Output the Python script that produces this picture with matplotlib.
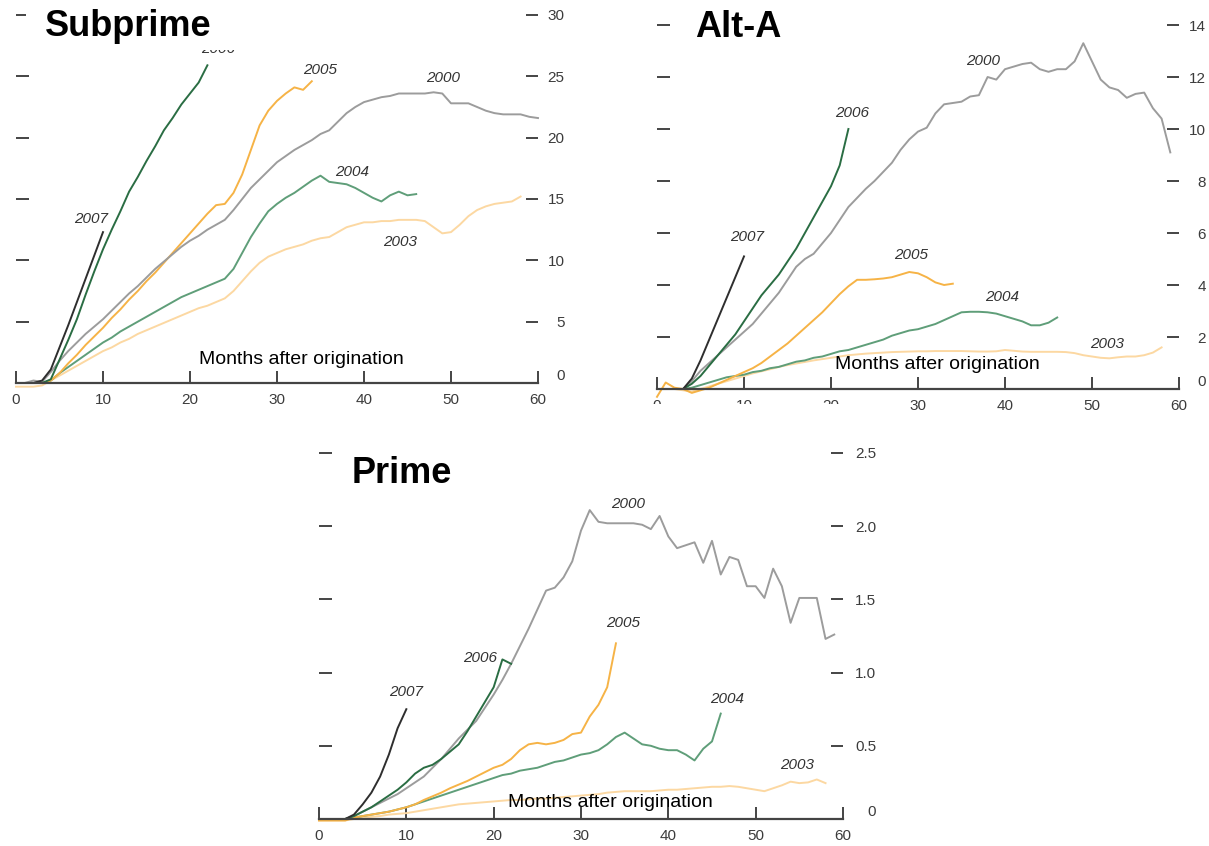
import numpy as np
import matplotlib
matplotlib.use('Agg')
import matplotlib.pyplot as plt
from matplotlib.patches import Rectangle

plt.rcParams['font.family'] = ['Liberation Sans', 'DejaVu Sans']

# cumulative default rates by vintage, months after origination (index = month)
sub_2000 = [0, 0, 0.2, 0.1, 0.9, 1.8, 2.6, 3.3, 4.0, 4.6, 5.2, 5.9, 6.6, 7.3, 7.9, 8.6, 9.3, 9.9, 10.5, 11.1,
            11.6, 12.0, 12.5, 12.9, 13.3, 14.1, 15.0, 15.9, 16.6, 17.3, 18.0, 18.5, 19.0, 19.4, 19.8, 20.3, 20.6,
            21.3, 22.0, 22.5, 22.9, 23.1, 23.3, 23.4, 23.6, 23.6, 23.6, 23.6, 23.7, 23.6, 22.8, 22.8, 22.8, 22.5,
            22.2, 22.0, 21.9, 21.9, 21.9, 21.7, 21.6]
sub_2003 = [-0.3, -0.3, -0.3, -0.2, 0.2, 0.6, 1.0, 1.4, 1.8, 2.2, 2.6, 2.9, 3.3, 3.6, 4.0, 4.3, 4.6, 4.9, 5.2,
            5.5, 5.8, 6.1, 6.3, 6.6, 6.9, 7.5, 8.3, 9.1, 9.8, 10.3, 10.6, 10.9, 11.1, 11.3, 11.6, 11.8, 11.9, 12.3,
            12.7, 12.9, 13.1, 13.1, 13.2, 13.2, 13.3, 13.3, 13.3, 13.2, 12.7, 12.2, 12.3, 12.9, 13.6, 14.1, 14.4,
            14.6, 14.7, 14.8, 15.2]
sub_2004 = [0, 0, 0, 0, 0.2, 0.8, 1.3, 1.8, 2.3, 2.8, 3.3, 3.7, 4.2, 4.6, 5.0, 5.4, 5.8, 6.2, 6.6, 7.0, 7.3, 7.6,
            7.9, 8.2, 8.5, 9.3, 10.6, 11.9, 13.0, 14.0, 14.6, 15.1, 15.5, 16.0, 16.5, 16.9, 16.4, 16.3, 16.2, 15.9,
            15.5, 15.1, 14.8, 15.3, 15.6, 15.3, 15.4]
sub_2005 = [0, 0, 0, 0, 0.2, 0.8, 1.6, 2.3, 3.1, 3.8, 4.5, 5.3, 6.0, 6.8, 7.5, 8.3, 9.0, 9.8, 10.6, 11.4, 12.2,
            13.0, 13.8, 14.5, 14.6, 15.5, 17.0, 19.0, 21.0, 22.2, 23.0, 23.6, 24.1, 23.9, 24.6]
sub_2006 = [0, 0, 0, 0, 0.3, 1.9, 3.5, 5.2, 7.2, 9.1, 10.9, 12.5, 14.0, 15.6, 16.8, 18.1, 19.3, 20.6, 21.6, 22.7,
            23.6, 24.5, 25.9]
sub_2007 = [0, 0, 0, 0.2, 1.1, 2.9, 4.7, 6.6, 8.5, 10.4, 12.3]

alt_2000 = [0, 0, 0, 0, 0.3, 0.7, 1.0, 1.3, 1.6, 1.9, 2.2, 2.5, 2.9, 3.3, 3.7, 4.2, 4.7, 5.0, 5.2, 5.6, 6.0, 6.5,
            7.0, 7.35, 7.7, 8.0, 8.35, 8.7, 9.2, 9.6, 9.9, 10.05, 10.6, 10.95, 11.0, 11.05, 11.25, 11.3, 12.0, 11.9,
            12.3, 12.4, 12.5, 12.55, 12.3, 12.2, 12.3, 12.3, 12.6, 13.3, 12.6, 11.9, 11.6, 11.5, 11.2, 11.35, 11.4,
            10.8, 10.4, 9.1]
alt_2003 = [0, 0, 0, -0.05, -0.1, 0, 0.1, 0.2, 0.3, 0.4, 0.5, 0.6, 0.68, 0.76, 0.85, 0.92, 0.98, 1.04, 1.1, 1.15,
            1.2, 1.25, 1.3, 1.33, 1.36, 1.38, 1.4, 1.42, 1.43, 1.44, 1.45, 1.45, 1.46, 1.46, 1.46, 1.46, 1.45, 1.44,
            1.44, 1.45, 1.5, 1.47, 1.44, 1.43, 1.43, 1.43, 1.43, 1.42, 1.38, 1.3, 1.25, 1.2, 1.18, 1.22, 1.25, 1.25,
            1.3, 1.4, 1.6]
alt_2004 = [0, 0, 0, 0, 0.05, 0.15, 0.25, 0.35, 0.45, 0.5, 0.55, 0.65, 0.7, 0.8, 0.85, 0.95, 1.05, 1.1, 1.2, 1.25,
            1.35, 1.45, 1.5, 1.6, 1.7, 1.8, 1.9, 2.05, 2.15, 2.25, 2.3, 2.4, 2.5, 2.65, 2.8, 2.95, 2.97, 2.97, 2.95,
            2.9, 2.8, 2.7, 2.6, 2.45, 2.45, 2.55, 2.75]
alt_2005 = [-0.3, 0.25, 0.05, 0, -0.15, -0.05, 0.05, 0.2, 0.35, 0.5, 0.65, 0.8, 1.0, 1.25, 1.5, 1.75, 2.05, 2.35,
            2.65, 2.95, 3.3, 3.65, 3.95, 4.2, 4.2, 4.22, 4.25, 4.3, 4.4, 4.5, 4.45, 4.3, 4.1, 4.0, 4.05]
alt_2006 = [0, 0, 0, 0, 0.2, 0.5, 0.9, 1.3, 1.7, 2.1, 2.6, 3.1, 3.6, 4.0, 4.4, 4.9, 5.4, 6.0, 6.6, 7.2, 7.8, 8.6,
            10.0]
alt_2007 = [0, 0, 0, 0, 0.4, 1.1, 1.9, 2.7, 3.5, 4.3, 5.1]

pri_2000 = [0, 0, 0, 0, 0.02, 0.05, 0.08, 0.11, 0.14, 0.17, 0.21, 0.25, 0.29, 0.35, 0.41, 0.48, 0.55, 0.61, 0.67,
            0.76, 0.85, 0.95, 1.06, 1.18, 1.3, 1.43, 1.56, 1.58, 1.65, 1.76, 1.97, 2.11, 2.03, 2.02, 2.02, 2.02,
            2.02, 2.01, 1.98, 2.07, 1.93, 1.85, 1.87, 1.89, 1.75, 1.9, 1.67, 1.79, 1.77, 1.59, 1.59, 1.51, 1.71,
            1.59, 1.34, 1.51, 1.51, 1.51, 1.23, 1.26]
pri_2003 = [-0.01, -0.01, -0.01, -0.01, 0.0, 0.01, 0.015, 0.02, 0.03, 0.035, 0.04, 0.05, 0.06, 0.07, 0.08, 0.09,
            0.1, 0.105, 0.11, 0.115, 0.12, 0.125, 0.13, 0.13, 0.135, 0.14, 0.14, 0.145, 0.15, 0.155, 0.16, 0.165,
            0.17, 0.18, 0.185, 0.19, 0.19, 0.19, 0.19, 0.195, 0.2, 0.2, 0.205, 0.21, 0.215, 0.22, 0.22, 0.225, 0.22,
            0.21, 0.2, 0.19, 0.21, 0.23, 0.255, 0.245, 0.25, 0.27, 0.245]
pri_2004 = [0, 0, 0, 0, 0.01, 0.02, 0.03, 0.04, 0.05, 0.065, 0.08, 0.1, 0.12, 0.14, 0.16, 0.18, 0.2, 0.22, 0.24,
            0.26, 0.28, 0.3, 0.31, 0.33, 0.34, 0.35, 0.37, 0.39, 0.4, 0.42, 0.44, 0.45, 0.47, 0.51, 0.56, 0.59, 0.55,
            0.51, 0.5, 0.48, 0.47, 0.47, 0.44, 0.4, 0.48, 0.53, 0.72]
pri_2005 = [-0.01, -0.01, -0.01, -0.01, 0.01, 0.02, 0.03, 0.04, 0.05, 0.065, 0.08, 0.1, 0.13, 0.155, 0.18, 0.21,
            0.235, 0.26, 0.29, 0.32, 0.35, 0.37, 0.41, 0.47, 0.51, 0.52, 0.51, 0.52, 0.54, 0.58, 0.59, 0.7, 0.78,
            0.9, 1.2]
pri_2006 = [0, 0, 0, 0, 0.02, 0.05, 0.08, 0.12, 0.16, 0.2, 0.25, 0.31, 0.35, 0.37, 0.41, 0.46, 0.51, 0.6, 0.7,
            0.8, 0.9, 1.09, 1.06]
pri_2007 = [0, 0, 0, 0, 0.03, 0.1, 0.18, 0.29, 0.44, 0.62, 0.75]

# where the vintage labels sit (month, value)
sub_labels = {'2006': (23.2, 27.2), '2005': (35, 25.5), '2000': (49.1, 24.9), '2004': (38.6, 17.2),
              '2003': (44.2, 11.5), '2007': (8.6, 13.4)}
alt_labels = {'2000': (37.5, 12.6), '2006': (22.4, 10.6), '2007': (10.3, 5.85), '2005': (29.2, 5.15),
              '2004': (39.7, 3.55), '2003': (51.7, 1.75)}
pri_labels = {'2000': (35.4, 2.15), '2005': (34.8, 1.34), '2006': (18.4, 1.1), '2007': (10, 0.87),
              '2004': (46.7, 0.82), '2003': (54.7, 0.37)}

sub_yticks = [0, 5, 10, 15, 20, 25, 30]
alt_yticks = [0, 2, 4, 6, 8, 10, 12, 14]
pri_yticks = [0, 0.5, 1.0, 1.5, 2.0, 2.5]
pri_yticklabels = ['0', '0.5', '1.0', '1.5', '2.0', '2.5']

colors = {'2000': '#9c9c9c', '2003': '#fcd8a2', '2004': '#5f9e79', '2005': '#f6b346',
          '2006': '#2a6d43', '2007': '#2e2e2e'}

W, H = 1209, 846
fig = plt.figure(figsize=(W / 100, H / 100), dpi=100)


def px_box(x0, y0, x1, y1):
    # pixel box (top-left origin) -> figure fraction [left, bottom, width, height]
    return [x0 / W, 1 - y1 / H, (x1 - x0) / W, (y1 - y0) / H]


def panel(box, series, labels, yticks, yticklabels, ypad, months_xy):
    ax = fig.add_axes(box)
    for year in ['2003', '2004', '2005', '2000', '2006', '2007']:
        vals = series[year]
        ax.plot(np.arange(len(vals)), vals, color=colors[year], lw=1.4, clip_on=False,
                solid_joinstyle='round')
    for year, (mx, my) in labels.items():
        ax.text(mx, my, year, fontsize=11, style='italic', color='#333333', ha='center', va='center')
    ax.text(months_xy[0], months_xy[1], 'Months after origination', fontsize=14, ha='center', va='center')

    ax.set_xlim(0, 60)
    ax.set_ylim(0, yticks[-1])
    for s in ['left', 'right', 'top']:
        ax.spines[s].set_visible(False)
    ax.spines['bottom'].set_color('#444444')
    ax.spines['bottom'].set_linewidth(1.6)

    ax.set_xticks(range(0, 61, 10))
    ax.tick_params(axis='x', direction='in', length=9, width=1.4, color='#444444',
                   labelsize=11, labelcolor='#3c3c3c', pad=7)
    ax.set_yticks(yticks)
    ax.set_yticklabels(yticklabels)
    ax.tick_params(axis='y', direction='in', length=9, width=1.4, color='#444444',
                   left=True, right=True, labelleft=False, labelright=True,
                   labelsize=11, labelcolor='#3c3c3c', pad=ypad)
    plt.setp(ax.get_yticklabels(), ha='right')
    ax.get_yticklabels()[0].set_va('bottom')
    return ax


panel(px_box(16, 15, 538, 383),
      {'2000': sub_2000, '2003': sub_2003, '2004': sub_2004, '2005': sub_2005, '2006': sub_2006, '2007': sub_2007},
      sub_labels, sub_yticks, [str(t) for t in sub_yticks], 19, (32.8, 1.95))
panel(px_box(657, 25, 1179, 389),
      {'2000': alt_2000, '2003': alt_2003, '2004': alt_2004, '2005': alt_2005, '2006': alt_2006, '2007': alt_2007},
      alt_labels, alt_yticks, [str(t) for t in alt_yticks], 19.5, (32.2, 0.96))
panel(px_box(319, 453, 843, 819),
      {'2000': pri_2000, '2003': pri_2003, '2004': pri_2004, '2005': pri_2005, '2006': pri_2006, '2007': pri_2007},
      pri_labels, pri_yticks, pri_yticklabels, 24, (33.4, 0.11))

# white boxes behind the panel names, plus the strip that cuts off the Alt-A axis labels
for x0, y0, x1, y1 in [(26, 0, 236, 50), (673, 0, 800, 52), (332, 440, 468, 498), (640, 404, 875, 440)]:
    b = px_box(x0, y0, x1, y1)
    fig.add_artist(Rectangle((b[0], b[1]), b[2], b[3], transform=fig.transFigure,
                             facecolor='white', edgecolor='none', zorder=10))

for name, x, y in [('Subprime', 45, 36), ('Alt-A', 695, 37), ('Prime', 352, 483)]:
    fig.text(x / W, 1 - y / H, name, fontsize=26, fontweight='bold', ha='left', va='baseline', zorder=11)

fig.savefig('out.png', dpi=100)
